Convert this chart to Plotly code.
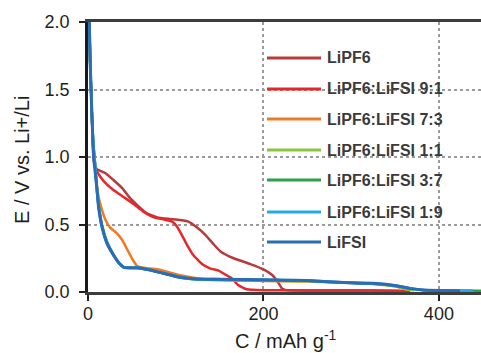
import plotly.graph_objects as go

# ---- data ----
names = ["LiPF6", "LiPF6:LiFSI 9:1", "LiPF6:LiFSI 7:3", "LiPF6:LiFSI 1:1",
         "LiPF6:LiFSI 3:7", "LiPF6:LiFSI 1:9", "LiFSI"]
colors = ["#b93a3a", "#e8262b", "#ee7b24", "#8cc43f", "#2ba24a", "#26a9e1", "#2a6cb6"]

lipf6_x = [1.5, 2.5, 3.5, 4.5, 5.5, 7, 10, 20, 29, 39, 48, 58, 67, 79, 94, 105, 115, 124,
           134, 143, 151, 166, 185, 200, 210, 217, 221, 226, 260, 300, 340, 356]
lipf6_y = [2.0, 1.7, 1.5, 1.3, 1.1, 0.96, 0.91, 0.88, 0.83, 0.77, 0.695, 0.632, 0.583, 0.553,
           0.541, 0.533, 0.52, 0.479, 0.422, 0.355, 0.3, 0.25, 0.207, 0.168, 0.126, 0.069,
           0.027, 0.014, 0.012, 0.011, 0.01, 0.008]

r91_x = [1.5, 2.5, 3.5, 4.5, 5.5, 7, 9, 14, 22, 29, 40, 52, 63, 75, 86, 96, 101, 107, 113,
         120, 130, 139, 149, 154, 164, 171, 181, 200, 250, 300, 350, 367]
r91_y = [2.0, 1.7, 1.5, 1.3, 1.1, 0.97, 0.91, 0.854, 0.793, 0.756, 0.706, 0.652, 0.595, 0.553,
         0.538, 0.521, 0.489, 0.422, 0.348, 0.274, 0.207, 0.175, 0.158, 0.139, 0.101, 0.052,
         0.02, 0.013, 0.012, 0.012, 0.01, 0.008]

r73_x = [1.5, 2.5, 3.5, 4.5, 6, 8, 10, 12, 16, 20, 25, 33, 39, 44, 50, 56, 63, 79, 94, 105,
         117, 140, 200, 250, 290, 330, 352, 362, 370]
r73_y = [2.0, 1.7, 1.5, 1.3, 1.1, 0.95, 0.8, 0.706, 0.607, 0.533, 0.479, 0.435, 0.385, 0.324,
         0.25, 0.193, 0.18, 0.168, 0.143, 0.124, 0.109, 0.09, 0.082, 0.078, 0.07, 0.06,
         0.04, 0.02, 0.012]

r11_x = [1.5, 2.5, 3.5, 4.5, 6, 8, 10, 12, 16, 22, 29, 35, 41, 56, 71, 86, 105, 124, 150,
         200, 250, 290, 325, 350, 362, 372]
r11_y = [2.0, 1.7, 1.5, 1.3, 1.1, 0.95, 0.79, 0.66, 0.5, 0.37, 0.28, 0.22, 0.18, 0.176,
         0.16, 0.136, 0.106, 0.093, 0.088, 0.084, 0.08, 0.072, 0.06, 0.042, 0.022, 0.012]

r37_x = [1.5, 2.5, 3.5, 4.5, 6, 8, 10, 12, 16, 22, 29, 35, 41, 56, 71, 86, 105, 124, 150,
         200, 250, 287, 325, 352, 368, 384, 400, 455]
r37_y = [2.0, 1.7, 1.5, 1.3, 1.1, 0.95, 0.775, 0.65, 0.49, 0.36, 0.275, 0.218, 0.181, 0.178,
         0.162, 0.138, 0.108, 0.095, 0.091, 0.087, 0.083, 0.07, 0.062, 0.044, 0.025, 0.013,
         0.011, 0.01]

r19_x = [1.5, 2.5, 3.5, 4.5, 6, 8, 10, 12, 16, 22, 29, 35, 41, 56, 71, 86, 105, 124, 150,
         200, 250, 287, 325, 352, 367, 382, 400, 439]
r19_y = [2.0, 1.7, 1.5, 1.3, 1.1, 0.95, 0.765, 0.64, 0.485, 0.36, 0.274, 0.217, 0.183, 0.18,
         0.163, 0.139, 0.109, 0.096, 0.094, 0.09, 0.085, 0.072, 0.064, 0.046, 0.027, 0.014,
         0.011, 0.01]

lifsi_x = [1.5, 2.5, 3.5, 4.5, 6.4, 8.3, 10.3, 12, 16, 21.6, 29, 35, 41, 56, 71, 86, 105,
           124, 150, 200, 250, 287, 325, 352, 367, 382, 400, 424]
lifsi_y = [2.0, 1.7, 1.5, 1.3, 1.0, 0.88, 0.755, 0.63, 0.48, 0.36, 0.274, 0.217, 0.183, 0.18,
           0.163, 0.139, 0.109, 0.096, 0.094, 0.09, 0.085, 0.072, 0.064, 0.046, 0.027, 0.014,
           0.011, 0.01]

xs = [lipf6_x, r91_x, r73_x, r11_x, r37_x, r19_x, lifsi_x]
ys = [lipf6_y, r91_y, r73_y, r11_y, r37_y, r19_y, lifsi_y]
widths = [2.5, 2.5, 2.5, 2.5, 2.5, 2.8, 3.0]

x_ticks = [0, 200, 400]
y_ticks = [0.0, 0.5, 1.0, 1.5, 2.0]

fig = go.Figure()
for n, c, x, y, w in zip(names, colors, xs, ys, widths):
    fig.add_trace(go.Scatter(x=x, y=y, mode="lines", name=n,
                             line=dict(color=c, width=w, shape="spline", smoothing=0.4),
                             showlegend=False))

# plot-area geometry in pixels
W, H = 481, 353
L, R, T, B = 88, 481, 22, 292


def px_x(p):
    return (p - L) / (R - L)


def px_y(p):
    return (B - p) / (B - T)


# manual legend
leg_y = [58, 89, 119, 150, 180, 212, 242]
for n, c, py in zip(names, colors, leg_y):
    fig.add_shape(type="line", xref="paper", yref="paper",
                  x0=px_x(267), x1=px_x(321), y0=px_y(py), y1=px_y(py),
                  line=dict(color=c, width=3))
    fig.add_annotation(xref="paper", yref="paper", x=px_x(325), y=px_y(py),
                       text=n, showarrow=False, xanchor="left", yanchor="middle",
                       font=dict(family="Liberation Sans", size=16, color="#3a3a3a",
                                 weight="bold"))

# axis titles
title_font = dict(family="Liberation Sans", size=20, color="#231f20")
fig.add_annotation(xref="paper", yref="paper", x=px_x(286), y=px_y(339),
                   text="C / mAh g<sup>-1</sup>", showarrow=False,
                   xanchor="center", yanchor="middle", font=title_font)
fig.add_annotation(xref="paper", yref="paper", x=px_x(22), y=px_y(160),
                   text="E / V vs. Li+/Li", showarrow=False, textangle=-90,
                   xanchor="center", yanchor="middle", font=title_font)

tickfont = dict(family="Liberation Sans", size=18, color="#231f20")
fig.update_layout(
    width=W, height=H,
    margin=dict(l=L, r=W - R, t=T, b=H - B, autoexpand=False),
    paper_bgcolor="white", plot_bgcolor="white",
    xaxis=dict(range=[0, 448], tickvals=x_ticks, ticks="outside", ticklen=6, tickwidth=2,
               tickcolor="#231f20", showline=True, linecolor="#3d3d3d", linewidth=3,
               mirror=True, showgrid=True, gridcolor="#9a9a9a", griddash="dot",
               gridwidth=1.5, zeroline=False, tickfont=tickfont, layer="below traces",
               automargin=False, ticklabelstandoff=-3),
    yaxis=dict(range=[0, 2], tickvals=y_ticks, tickformat=".1f", ticks="outside", ticklen=6,
               tickwidth=2, tickcolor="#231f20", showline=True, linecolor="#1a1a1a",
               linewidth=2.5, showgrid=True, gridcolor="#9a9a9a", griddash="dot",
               gridwidth=1.5, zeroline=False, tickfont=tickfont, layer="below traces",
               automargin=False, ticklabelstandoff=6),
)

fig.write_html("out.html", config={"displayModeBar": False},
               post_script="document.body.style.margin='0px';document.body.style.overflow='hidden';")
